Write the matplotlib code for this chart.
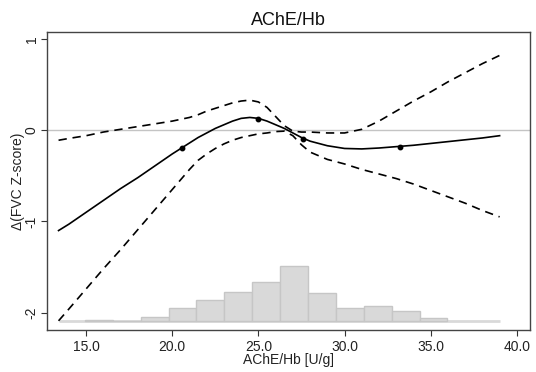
import matplotlib
matplotlib.use("Agg")
import matplotlib.pyplot as plt

plt.rcParams["font.family"] = ["Liberation Sans", "DejaVu Sans"]

# fitted curve and 95% band
x_fit = [13.4, 14, 15, 16, 17, 18, 19, 20, 21, 21.5, 22, 22.5, 23, 23.5, 24, 24.5,
         25, 25.5, 26, 26.5, 27, 27.5, 28, 29, 30, 31, 32, 33, 34, 35, 36, 37, 38, 39]
y_fit = [-1.10, -1.03, -0.90, -0.77, -0.64, -0.52, -0.39, -0.26, -0.14, -0.08, -0.03,
         0.02, 0.06, 0.10, 0.13, 0.14, 0.13, 0.10, 0.06, 0.02, -0.03, -0.08, -0.12,
         -0.17, -0.20, -0.205, -0.195, -0.18, -0.165, -0.145, -0.125, -0.105, -0.085, -0.06]
y_upper = [-0.11, -0.09, -0.06, -0.02, 0.01, 0.04, 0.07, 0.10, 0.14, 0.17, 0.21, 0.24,
           0.27, 0.30, 0.32, 0.33, 0.31, 0.25, 0.15, 0.05, -0.01, -0.02, -0.02,
           -0.03, -0.03, 0.01, 0.10, 0.21, 0.32, 0.42, 0.53, 0.63, 0.73, 0.82]
y_lower = [-2.09, -1.96, -1.74, -1.52, -1.31, -1.09, -0.87, -0.65, -0.43, -0.33, -0.26,
           -0.20, -0.15, -0.11, -0.08, -0.06, -0.04, -0.03, -0.015, -0.01, -0.06, -0.16,
           -0.24, -0.32, -0.37, -0.43, -0.48, -0.53, -0.59, -0.66, -0.73, -0.80, -0.88, -0.95]

# knots
x_knots = [20.56, 25.0, 27.6, 33.2]
y_knots = [-0.19, 0.128, -0.095, -0.18]

# histogram of AChE/Hb
bin_edges = [14.94, 16.56, 18.19, 19.81, 21.40, 23.02, 24.65, 26.28,
             27.89, 29.52, 31.12, 32.75, 34.38, 35.97]
bin_heights = [0.011, 0.0, 0.047, 0.149, 0.233, 0.321, 0.434, 0.609,
               0.307, 0.142, 0.168, 0.113, 0.036]
hist_base = -2.095

fig = plt.figure(figsize=(5.36, 3.72), dpi=100)
ax = fig.add_axes([0.0877, 0.113, 0.901, 0.801])

ax.axhline(0, color="#c4c4c4", lw=1.0, zorder=1)

ax.plot([x_fit[0], x_fit[-1]], [hist_base, hist_base], color="#d9d9d9", lw=2, zorder=1,
        solid_capstyle="butt")
widths = [bin_edges[i + 1] - bin_edges[i] for i in range(len(bin_heights))]
ax.bar(bin_edges[:-1], bin_heights, width=widths, bottom=hist_base, align="edge",
       color="#d9d9d9", edgecolor="#c6c6c6", linewidth=1.0, zorder=2)

ax.plot(x_fit, y_upper, color="black", lw=1.2, dashes=(5, 3.5), zorder=3)
ax.plot(x_fit, y_lower, color="black", lw=1.2, dashes=(5, 3.5), zorder=3)
ax.plot(x_fit, y_fit, color="black", lw=1.2, zorder=4)
ax.plot(x_knots, y_knots, "o", color="black", ms=3.2, zorder=5)

ax.set_xlim(12.73, 40.76)
ax.set_ylim(-2.19, 1.077)
ax.set_xticks([15, 20, 25, 30, 35, 40])
ax.set_xticklabels(["15.0", "20.0", "25.0", "30.0", "35.0", "40.0"])
ax.set_yticks([-2, -1, 0, 1])
ax.set_yticklabels(["-2", "-1", "0", "1"], rotation=90, va="center")
ax.tick_params(axis="both", labelsize=10, length=4, width=0.8, color="#333333",
               labelcolor="#222222")
ax.tick_params(axis="y", pad=2)

for s in ax.spines.values():
    s.set_color("#444444")
    s.set_linewidth(1.0)

ax.set_title("AChE/Hb", fontsize=13, pad=5, color="#111111")
ax.set_xlabel("AChE/Hb [U/g]", fontsize=10, labelpad=-1, color="#222222")
ax.set_ylabel("Δ(FVC Z-score)", fontsize=10, labelpad=0, color="#222222")

fig.savefig("out.png", dpi=100)
